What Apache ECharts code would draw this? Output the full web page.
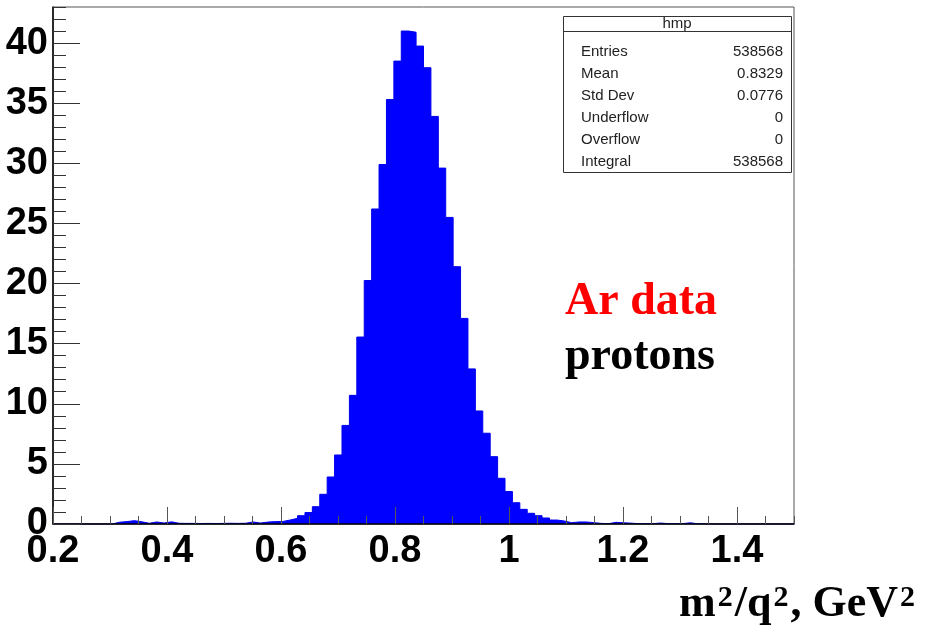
<!DOCTYPE html>
<html>
<head>
<meta charset="utf-8">
<script src="https://cdn.jsdelivr.net/npm/echarts@6/dist/echarts.min.js"></script>
<style>
html,body{margin:0;padding:0;background:#fff;}
#c{width:935px;height:635px;}
</style>
</head>
<body>
<div id="c"></div>
<script>
// Histogram: 100 bins from 0.2 to 1.5
const binLow = 0.2;
const binHigh = 1.5;
const binCount = 100;
const counts = [
  0, 0, 0, 0, 0, 0, 0, 0, 0.15, 0.2,
  0.28, 0.18, 0.06, 0.17, 0.08, 0.18, 0.06, 0.05, 0.05, 0.04,
  0.05, 0.04, 0.05, 0.06, 0.05, 0.06, 0.17, 0.08, 0.16, 0.2,
  0.21, 0.33, 0.47, 0.69, 0.95, 1.44, 2.47, 3.91, 5.74, 8.2,
  10.7, 15.55, 20.25, 26.2, 29.9, 35.3, 38.5, 41.0, 40.9, 39.75,
  37.95, 33.9, 29.6, 25.5, 21.4, 17.1, 12.9, 9.4, 7.55, 5.6,
  3.8, 2.7, 1.77, 1.22, 0.89, 0.69, 0.5, 0.33, 0.25, 0.11,
  0.17, 0.17, 0.11, 0.05, 0.03, 0.14, 0.1, 0.07, 0.03, 0.02,
  0.03, 0.08, 0.03, 0.02, 0.03, 0.1, 0.02, 0, 0, 0,
  0, 0, 0, 0, 0, 0, 0, 0, 0, 0
];
const xTicks = [0.2, 0.4, 0.6, 0.8, 1, 1.2, 1.4];
const yTicks = [0, 5, 10, 15, 20, 25, 30, 35, 40];
const statsTitle = 'hmp';
const statsNames = ['Entries', 'Mean', 'Std Dev', 'Underflow', 'Overflow', 'Integral'];
const statsValues = ['538568', '0.8329', '0.0776', '0', '0', '538568'];
const labelLine1 = 'Ar data';
const labelLine2 = 'protons';

const yMax = 43;
const binWidth = (binHigh - binLow) / binCount;
const stepData = counts.map((v, i) => [binLow + i * binWidth, v]);
stepData.push([binHigh, counts[counts.length - 1]]);

const narrow = "'Liberation Sans', Arial, sans-serif";
const statFont = "'Liberation Sans', Arial, sans-serif";
const serif = "'Liberation Serif', 'DejaVu Serif', serif";

const chart = echarts.init(document.getElementById('c'), null, {renderer: 'canvas'});

const statsGraphics = [];
statsGraphics.push({
  type: 'rect', left: 563, top: 16, z: 100,
  shape: {width: 228, height: 156},
  style: {fill: '#fff', stroke: '#333', lineWidth: 1}
});
statsGraphics.push({
  type: 'line', z: 101,
  shape: {x1: 563, y1: 31.5, x2: 791, y2: 31.5},
  style: {stroke: '#333', lineWidth: 1}
});
statsGraphics.push({
  type: 'text', z: 101, x: 677, y: 23.5,
  style: {text: statsTitle, font: '15px ' + statFont, fill: '#222', align: 'center', verticalAlign: 'middle'}
});
statsNames.forEach((n, i) => {
  const yc = 51.5 + i * 22;
  statsGraphics.push({
    type: 'text', z: 101, x: 581, y: yc,
    style: {text: n, font: '15px ' + statFont, fill: '#222', align: 'left', verticalAlign: 'middle'}
  });
  statsGraphics.push({
    type: 'text', z: 101, x: 783, y: yc,
    style: {text: statsValues[i], font: '15px ' + statFont, fill: '#222', align: 'right', verticalAlign: 'middle'}
  });
});
statsGraphics.push({
  type: 'text', z: 101, x: 565, y: 302,
  style: {text: labelLine1, font: 'bold 46px ' + serif, fill: '#ff0000', align: 'left', verticalAlign: 'middle'}
});
statsGraphics.push({
  type: 'text', z: 101, x: 565, y: 357,
  style: {text: labelLine2, font: 'bold 46px ' + serif, fill: '#000', align: 'left', verticalAlign: 'middle'}
});

const axisLabelStyle = {
  fontFamily: narrow, fontWeight: 'bold', fontSize: 38, color: '#000'
};

chart.setOption({
  animation: false,
  backgroundColor: '#fff',
  grid: {left: 53, top: 7, right: 141, bottom: 111, show: true, borderColor: '#555', borderWidth: 1, backgroundColor: 'transparent'},
  title: {
    text: '{m|m}{s|2}{m|/q}{s|2}{m|, GeV}{s|2}',
    right: 15, top: 578,
    textStyle: {
      rich: {
        m: {fontFamily: serif, fontWeight: 'bold', fontSize: 44, color: '#000', verticalAlign: 'bottom'},
        s: {fontFamily: serif, fontWeight: 'bold', fontSize: 30, color: '#000', verticalAlign: 'top', padding: [0, 2, 0, 2]}
      }
    }
  },
  xAxis: [
    {
      type: 'value', min: binLow, max: binHigh, interval: 0.2, position: 'bottom', z: 10,
      axisLine: {show: true, onZero: false, lineStyle: {color: '#000', width: 1.5}},
      axisTick: {show: true, inside: true, length: 17, lineStyle: {color: '#555', width: 1}},
      axisLabel: {
        show: true, margin: 9, showMaxLabel: false, ...axisLabelStyle,
        formatter: v => { const t = xTicks.find(k => Math.abs(k - v) < 1e-6); return t === undefined ? '' : String(t); }
      },
      splitLine: {show: false}
    },
    {
      type: 'value', min: binLow, max: binHigh, interval: 0.05, position: 'bottom', z: 10,
      axisLine: {show: false, onZero: false},
      axisTick: {show: true, inside: true, length: 8, lineStyle: {color: '#555', width: 1}},
      axisLabel: {show: false},
      splitLine: {show: false}
    }
  ],
  yAxis: [
    {
      type: 'value', min: 0, max: yMax, interval: 5, position: 'left', z: 10,
      axisLine: {show: true, onZero: false, lineStyle: {color: '#000', width: 1.5}},
      axisTick: {show: true, inside: true, length: 27, lineStyle: {color: '#333', width: 1}},
      axisLabel: {
        show: true, margin: 5, showMaxLabel: false, ...axisLabelStyle,
        formatter: v => { const t = yTicks.find(k => Math.abs(k - v) < 1e-6); return t === undefined ? '' : String(t); }
      },
      splitLine: {show: false}
    },
    {
      type: 'value', min: 0, max: yMax, interval: 1, position: 'left', z: 10,
      axisLine: {show: false, onZero: false},
      axisTick: {show: true, inside: true, length: 13, lineStyle: {color: '#333', width: 1}},
      axisLabel: {show: false},
      splitLine: {show: false}
    }
  ],
  series: [{
    type: 'line', xAxisIndex: 0, yAxisIndex: 0,
    step: 'end', data: stepData, symbol: 'none',
    lineStyle: {color: '#0000ee', width: 1},
    areaStyle: {color: '#0000ff', opacity: 1},
    z: 2
  }],
  graphic: statsGraphics
});
</script>
</body>
</html>
